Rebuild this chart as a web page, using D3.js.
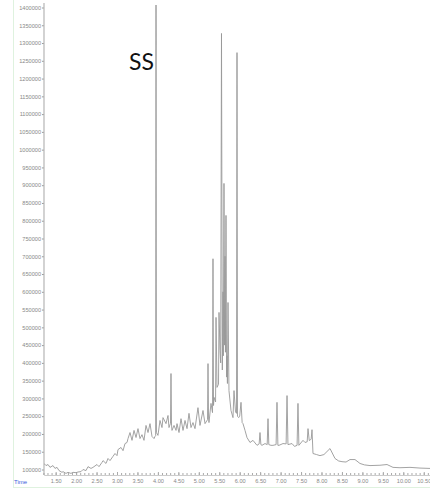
<!DOCTYPE html>
<html>
<head>
<meta charset="utf-8">
<script src="https://cdn.jsdelivr.net/npm/d3@7"></script>
<style>
  body { margin: 0; background: #fff; }
  svg { display: block; }
</style>
</head>
<body>
<svg id="chart" width="430" height="489"></svg>
<script>
// -- tick values -- //
let yTickValues = [100000, 150000, 200000, 250000, 300000, 350000, 400000, 450000, 500000,
  550000, 600000, 650000, 700000, 750000, 800000, 850000, 900000, 950000, 1000000,
  1050000, 1100000, 1150000, 1200000, 1250000, 1300000, 1350000, 1400000];
let xTickValues = [1.5, 2, 2.5, 3, 3.5, 4, 4.5, 5, 5.5, 6, 6.5, 7, 7.5, 8, 8.5, 9, 9.5, 10, 10.5];

// -- chromatogram trace, [time (min), intensity] -- //
let earlyBaseline = [
  [1.215, 117000], [1.264, 111000], [1.313, 114000], [1.362, 106000], [1.435, 111000],
  [1.484, 103000], [1.533, 106000], [1.582, 97000], [1.655, 92000], [1.680, 94000],
  [1.753, 89000], [1.802, 92000], [1.875, 89000], [1.924, 92000], [1.998, 91000],
  [2.046, 93000], [2.120, 94000], [2.169, 100000], [2.242, 97000], [2.291, 108000],
  [2.364, 103000], [2.413, 106000], [2.511, 114000], [2.560, 108000], [2.633, 120000],
  [2.658, 125000], [2.731, 117000], [2.780, 131000], [2.829, 125000], [2.902, 137000],
  [2.951, 145000], [3.000, 139000], [3.024, 156000], [3.098, 162000], [3.147, 153000],
  [3.196, 173000], [3.245, 176000]
];
let ssRegion = [
  [3.269, 187000], [3.318, 204000], [3.367, 182000], [3.416, 210000], [3.465, 190000],
  [3.513, 215000], [3.562, 187000], [3.611, 198000], [3.660, 182000], [3.709, 224000],
  [3.758, 204000], [3.807, 229000], [3.856, 193000], [3.905, 187000], [3.929, 193000],
  [3.945, 195000], [3.954, 1420000], [3.964, 204000], [4.002, 196000], [4.051, 238000],
  [4.100, 218000], [4.125, 246000], [4.198, 229000], [4.247, 252000], [4.271, 218000],
  [4.308, 230000], [4.320, 370000], [4.333, 225000], [4.345, 210000], [4.394, 224000],
  [4.443, 210000], [4.467, 229000], [4.516, 204000], [4.565, 243000], [4.614, 210000],
  [4.663, 238000], [4.712, 215000], [4.760, 258000], [4.809, 218000], [4.858, 232000],
  [4.907, 215000], [4.980, 274000], [5.029, 224000], [5.103, 266000], [5.152, 229000]
];
let mainCluster = [
  [5.213, 240000], [5.225, 398000], [5.238, 245000], [5.249, 232000], [5.298, 286000],
  [5.335, 260000], [5.347, 693000], [5.360, 280000], [5.372, 303000], [5.410, 290000],
  [5.421, 528000], [5.445, 331000], [5.482, 340000], [5.494, 542000], [5.518, 435000],
  [5.535, 400000], [5.555, 1327000], [5.575, 380000], [5.592, 600000], [5.600, 420000],
  [5.616, 905000], [5.630, 450000], [5.641, 700000], [5.652, 430000], [5.665, 815000],
  [5.680, 360000], [5.689, 420000], [5.700, 342000], [5.714, 570000], [5.738, 322000],
  [5.787, 266000], [5.836, 246000], [5.861, 322000], [5.898, 262000], [5.922, 258000],
  [5.934, 1273000], [5.946, 250000], [5.975, 246000], [6.000, 250000], [6.032, 289000],
  [6.060, 232000], [6.081, 229000], [6.130, 210000], [6.178, 190000], [6.252, 176000]
];
let lateRegion = [
  [6.325, 182000], [6.423, 168000], [6.475, 172000], [6.496, 204000], [6.518, 170000],
  [6.545, 168000], [6.619, 173000], [6.672, 170000], [6.692, 243000], [6.712, 170000],
  [6.765, 168000], [6.814, 168000], [6.890, 170000], [6.912, 289000], [6.934, 168000],
  [6.961, 168000], [7.059, 173000], [7.135, 172000], [7.157, 308000], [7.180, 170000],
  [7.279, 173000], [7.340, 165000], [7.403, 168000], [7.425, 286000], [7.447, 168000],
  [7.548, 182000], [7.597, 176000], [7.650, 178000], [7.670, 215000], [7.700, 182000],
  [7.719, 182000], [7.748, 186000], [7.768, 212000], [7.792, 145000], [7.880, 142000],
  [7.963, 139000], [8.060, 142000], [8.208, 159000], [8.330, 131000], [8.420, 124000],
  [8.501, 122000], [8.600, 121000], [8.697, 128000], [8.819, 128000], [8.941, 117000],
  [9.050, 113000], [9.186, 111000], [9.430, 112000], [9.602, 114000], [9.748, 106000],
  [9.919, 105000], [10.164, 106000], [10.408, 104000], [10.653, 103000]
];

let trace = earlyBaseline.concat(ssRegion, mainCluster, lateRegion);

// -- layout -- //
let svg = d3.select("#chart");
let plotLeft = 44, plotRight = 430, plotTop = 5, axisY = 475;

let xScale = d3.scaleLinear().domain([1.215, 10.653]).range([plotLeft, plotRight]);
let yScale = d3.scaleLinear().domain([100000, 1400000]).range([469.5, 7.5]);

// -- faint green frame of the original screenshot -- //
svg.append("line")
  .attr("x1", 13.5).attr("x2", 13.5).attr("y1", 0).attr("y2", 488)
  .style("stroke", "#dff2df").style("stroke-width", 1);
svg.append("line")
  .attr("x1", 13).attr("x2", 430).attr("y1", 487.5).attr("y2", 487.5)
  .style("stroke", "#dff2df").style("stroke-width", 1);

// -- y axis -- //
let yAxis = d3.axisLeft(yScale)
  .tickValues(yTickValues)
  .tickSize(2)
  .tickPadding(1)
  .tickFormat(d3.format("d"));
let yG = svg.append("g")
  .attr("transform", `translate(${plotLeft}, 0)`)
  .call(yAxis);
yG.select(".domain").remove();
yG.selectAll("line").style("stroke", "#999");
yG.selectAll("text")
  .style("font-family", "Liberation Sans, Arial, sans-serif")
  .style("font-size", "5.6px")
  .style("fill", "#888");

svg.append("line")
  .attr("x1", plotLeft).attr("x2", plotLeft).attr("y1", 3).attr("y2", axisY)
  .style("stroke", "#b5b5b5").style("stroke-width", 1.2);

// -- x axis with minor ticks -- //
let minorTicks = d3.range(12, 107).map(d => d / 10);
let xMinor = d3.axisBottom(xScale)
  .tickValues(minorTicks)
  .tickSize(-2)
  .tickFormat("");
let xMinorG = svg.append("g")
  .attr("transform", `translate(0, ${axisY})`)
  .call(xMinor);
xMinorG.select(".domain").style("stroke", "#ccc");
xMinorG.selectAll("line").style("stroke", "#aaa");

let xAxis = d3.axisBottom(xScale)
  .tickValues(xTickValues)
  .tickSize(-3)
  .tickPadding(4)
  .tickFormat(d3.format(".2f"));
let xG = svg.append("g")
  .attr("transform", `translate(0, ${axisY})`)
  .call(xAxis);
xG.select(".domain").remove();
xG.selectAll("line").style("stroke", "#aaa");
xG.selectAll("text")
  .style("font-family", "Liberation Sans, Arial, sans-serif")
  .style("font-size", "5.6px")
  .style("fill", "#888");

svg.append("text")
  .attr("x", 14).attr("y", 484)
  .text("Time")
  .style("font-family", "Liberation Sans, Arial, sans-serif")
  .style("font-size", "6px")
  .style("fill", "#3b5bdb");

// -- the trace -- //
svg.append("clipPath").attr("id", "plotClip")
  .append("rect")
  .attr("x", plotLeft).attr("y", plotTop)
  .attr("width", plotRight - plotLeft).attr("height", axisY - plotTop);

let line = d3.line()
  .x(d => xScale(d[0]))
  .y(d => yScale(d[1]));

svg.append("path")
  .datum(trace)
  .attr("clip-path", "url(#plotClip)")
  .attr("d", line)
  .style("fill", "none")
  .style("stroke", "#999")
  .style("stroke-width", 0.9)
  .style("stroke-linejoin", "round");

// -- peak label -- //
svg.append("text")
  .attr("x", 129).attr("y", 70)
  .text("SS")
  .style("font-family", "Lato, Open Sans, sans-serif")
  .style("font-size", "23px")
  .style("fill", "#111");
</script>
</body>
</html>
